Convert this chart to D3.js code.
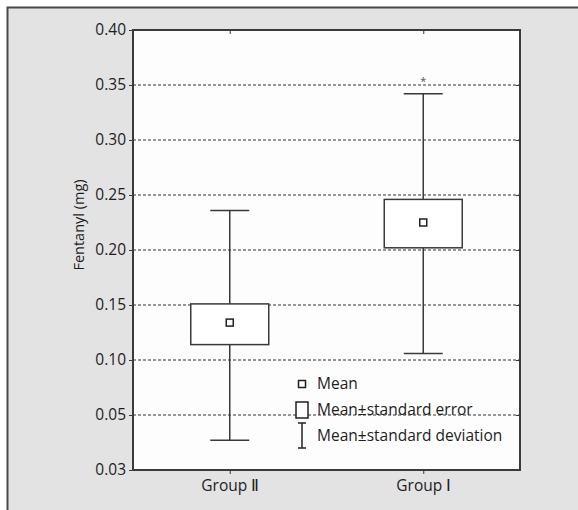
<!DOCTYPE html>
<html>
<head>
<meta charset="utf-8">
<script src="https://cdn.jsdelivr.net/npm/d3@7"></script>
<style>
  body { margin: 0; background: #fff; }
  text { font-family: "Open Sans", "Noto Sans", sans-serif; fill: #1e1e1e; }
</style>
</head>
<body>
<div id="chart"></div>
<script>
// values
var groups = ["Group Ⅱ", "Group Ⅰ"];
var means = [0.134, 0.225];
var seLow = [0.114, 0.202];
var seHigh = [0.151, 0.246];
var sdLow = [0.027, 0.106];
var sdHigh = [0.236, 0.342];
var yTickValues = [0, 0.05, 0.10, 0.15, 0.20, 0.25, 0.30, 0.35, 0.40];
var yTickLabels = ["0.03", "0.05", "0.10", "0.15", "0.20", "0.25", "0.30", "0.35", "0.40"];
var legendItems = ["Mean", "Mean\u00b1standard error", "Mean\u00b1standard deviation"];

var width = 578, height = 510;
var margin = {top: 30, right: 58, bottom: 40, left: 133};
var lineCol = "#3a3a3a";

var svg = d3.select("#chart").append("svg")
  .attr("width", width)
  .attr("height", height);

// grey panel
svg.append("rect")
  .attr("x", 7.5).attr("y", 7.5)
  .attr("width", width + 20).attr("height", height + 20)
  .style("fill", "#e3e3e3")
  .style("stroke", "#4a4a4a")
  .style("stroke-width", 2);

var x = d3.scalePoint()
  .domain(groups)
  .range([margin.left, width - margin.right])
  .padding(0.5);

var y = d3.scaleLinear()
  .domain([0, 0.40])
  .range([height - margin.bottom, margin.top]);

var x0 = margin.left, x1 = width - margin.right;
var y0 = height - margin.bottom, y1 = margin.top;

// plot area
svg.append("rect")
  .attr("x", x0).attr("y", y1)
  .attr("width", x1 - x0).attr("height", y0 - y1)
  .style("fill", "#fdfdfd");

// dashed grid
svg.append("g").selectAll("line")
  .data(yTickValues.filter(function(d) { return d > 0 && d < 0.4; }))
  .enter().append("line")
  .attr("x1", x0).attr("x2", x1)
  .attr("y1", function(d) { return y(d); })
  .attr("y2", function(d) { return y(d); })
  .style("stroke", "#333")
  .style("stroke-width", 1)
  .style("stroke-dasharray", "3,2");

// axes
var yAxis = d3.axisLeft(y)
  .tickValues(yTickValues)
  .tickFormat(function(d, i) { return yTickLabels[i]; })
  .tickSize(4)
  .tickPadding(3);

var gy = svg.append("g")
  .attr("transform", "translate(" + x0 + ",0)")
  .call(yAxis);
gy.select(".domain").remove();
gy.selectAll("line").style("stroke", lineCol);
gy.selectAll("text")
  .style("font-size", "15.5px")
  .style("font-family", "'Open Sans', sans-serif")
  .style("fill", "#1e1e1e");

var gyr = svg.append("g")
  .attr("transform", "translate(" + x1 + ",0)")
  .call(d3.axisLeft(y).tickValues(yTickValues).tickSize(4).tickFormat(""));
gyr.select(".domain").remove();
gyr.selectAll("line").style("stroke", lineCol);

var gx = svg.append("g")
  .attr("transform", "translate(0," + y0 + ")")
  .call(d3.axisBottom(x).tickSize(4).tickPadding(6));
gx.select(".domain").remove();
gx.selectAll("line").style("stroke", lineCol);
gx.selectAll("text")
  .style("font-size", "15.5px")
  .style("font-family", "'Open Sans', sans-serif")
  .style("fill", "#1e1e1e");

var gxt = svg.append("g")
  .attr("transform", "translate(0," + y1 + ")")
  .call(d3.axisBottom(x).tickSize(4).tickFormat(""));
gxt.select(".domain").remove();
gxt.selectAll("line").style("stroke", lineCol);

// frame
svg.append("rect")
  .attr("x", x0).attr("y", y1)
  .attr("width", x1 - x0).attr("height", y0 - y1)
  .style("fill", "none")
  .style("stroke", lineCol)
  .style("stroke-width", 2);

// y title
svg.append("text")
  .attr("transform", "translate(84," + 225 + ") rotate(-90)")
  .attr("text-anchor", "middle")
  .style("font-size", "14.5px")
  .text("Fentanyl (mg)");

// whiskers + boxes
var boxW = 78, capW = 39, meanS = 7;
var g = svg.append("g").selectAll("g")
  .data(groups)
  .enter().append("g");

g.append("line")
  .attr("x1", function(d) { return x(d); })
  .attr("x2", function(d) { return x(d); })
  .attr("y1", function(d, i) { return y(sdHigh[i]); })
  .attr("y2", function(d, i) { return y(sdLow[i]); })
  .style("stroke", lineCol).style("stroke-width", 1.5);

g.selectAll(".cap")
  .data(function(d, i) { return [{g: d, v: sdHigh[i]}, {g: d, v: sdLow[i]}]; })
  .enter().append("line")
  .attr("class", "cap")
  .attr("x1", function(d) { return x(d.g) - capW / 2; })
  .attr("x2", function(d) { return x(d.g) + capW / 2; })
  .attr("y1", function(d) { return y(d.v); })
  .attr("y2", function(d) { return y(d.v); })
  .style("stroke", lineCol).style("stroke-width", 1.5);

g.append("rect")
  .attr("x", function(d) { return x(d) - boxW / 2; })
  .attr("y", function(d, i) { return y(seHigh[i]); })
  .attr("width", boxW)
  .attr("height", function(d, i) { return y(seLow[i]) - y(seHigh[i]); })
  .style("fill", "#fff")
  .style("stroke", lineCol).style("stroke-width", 1.5);

g.append("rect")
  .attr("x", function(d) { return x(d) - meanS / 2; })
  .attr("y", function(d, i) { return y(means[i]) - meanS / 2; })
  .attr("width", meanS).attr("height", meanS)
  .style("fill", "#fff")
  .style("stroke", "#222").style("stroke-width", 1.5);

// significance mark
svg.append("text")
  .attr("x", x(groups[1]))
  .attr("y", y(sdHigh[1]) - 9)
  .attr("text-anchor", "middle")
  .style("font-size", "11px")
  .style("fill", "#555")
  .text("*");

// legend
var lx = 302, ly = [384, 410, 436];
svg.append("rect")
  .attr("x", lx - 3.5).attr("y", ly[0] - 3.5)
  .attr("width", 7).attr("height", 7)
  .style("fill", "#fff").style("stroke", "#222").style("stroke-width", 1.5);
svg.append("rect")
  .attr("x", lx - 6).attr("y", ly[1] - 8)
  .attr("width", 12).attr("height", 16)
  .style("fill", "#fff").style("stroke", "#222").style("stroke-width", 1.5);
svg.append("path")
  .attr("d", "M" + (lx - 4) + "," + (ly[2] - 13) + "h8M" + lx + "," + (ly[2] - 13) +
    "v25M" + (lx - 4) + "," + (ly[2] + 12) + "h8")
  .style("fill", "none").style("stroke", "#222").style("stroke-width", 1.5);

svg.append("g").selectAll("text")
  .data(legendItems)
  .enter().append("text")
  .attr("x", 317)
  .attr("y", function(d, i) { return ly[i]; })
  .attr("dy", "0.35em")
  .style("font-size", "15.5px")
  .text(function(d) { return d; });
</script>
</body>
</html>
